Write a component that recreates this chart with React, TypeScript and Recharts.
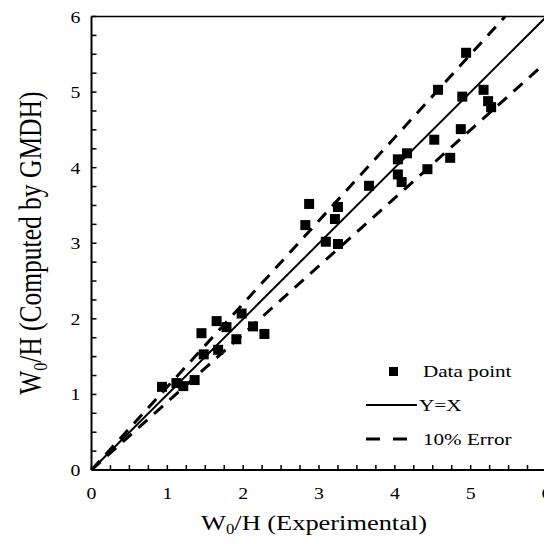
import React from 'react';
import { ScatterChart, Scatter, XAxis, YAxis, ReferenceLine, Label, Customized } from 'recharts';

// W0/H values
const experimental = [0.93, 1.12, 1.21, 1.36, 1.45, 1.48, 1.65, 1.67, 1.78, 1.91, 1.98, 2.13, 2.28, 2.82, 2.87, 3.09, 3.21, 3.25, 3.25, 3.66, 4.04, 4.04, 4.09, 4.16, 4.43, 4.52, 4.57, 4.73, 4.87, 4.89, 4.94, 5.17, 5.23, 5.27];
const computed = [1.10, 1.15, 1.11, 1.19, 1.81, 1.53, 1.97, 1.59, 1.89, 1.73, 2.07, 1.90, 1.80, 3.24, 3.52, 3.02, 3.32, 3.48, 2.99, 3.76, 4.11, 3.91, 3.81, 4.19, 3.98, 4.37, 5.03, 4.13, 4.51, 4.94, 5.52, 5.03, 4.88, 4.80];

const identityLine = [{ x: 0, y: 0 }, { x: 6, y: 6 }];
const upperErrorLine = [{ x: 0, y: 0 }, { x: 5.4545, y: 6 }];
const lowerErrorLine = [{ x: 0, y: 0 }, { x: 6, y: 5.4 }];

const axisTicks = [0, 0.25, 0.5, 0.75, 1, 1.25, 1.5, 1.75, 2, 2.25, 2.5, 2.75, 3, 3.25, 3.5, 3.75, 4, 4.25, 4.5, 4.75, 5, 5.25, 5.5, 5.75, 6];
const labelTicks = [0, 1, 2, 3, 4, 5, 6];

const legendLabels = ['Data point', 'Y=X', '10% Error'];

const points = experimental.map((x, i) => ({ x, y: computed[i] }));

const FONT = '"Liberation Serif", "Times New Roman", serif';
const SX = 1.2;

const XTick = (props: any) => {
  const { x, y, payload } = props;
  if (!labelTicks.includes(payload.value)) return <g />;
  return (
    <text transform={`translate(${x},${y + 12}) scale(${SX},1)`} textAnchor="middle" fontSize={16.5} fontFamily={FONT} fill="#000">
      {payload.value}
    </text>
  );
};

const YTick = (props: any) => {
  const { x, y, payload } = props;
  if (!labelTicks.includes(payload.value)) return <g />;
  return (
    <text transform={`translate(${x},${y + 6}) scale(${SX},1)`} textAnchor="end" fontSize={16.5} fontFamily={FONT} fill="#000">
      {payload.value}
    </text>
  );
};

const XTitle = (props: any) => {
  const vb = props.viewBox;
  const cx = vb.x + vb.width / 2 - 5;
  return (
    <text transform={`translate(${cx},${vb.y + 60}) scale(${SX},1)`} textAnchor="middle" fontSize={22} fontFamily={FONT} fill="#000">
      W<tspan fontSize={14} dy={4}>0</tspan><tspan dy={-4}>/H (Experimental)</tspan>
    </text>
  );
};

const YTitle = (props: any) => {
  const vb = props.viewBox;
  const cy = vb.y + vb.height / 2;
  return (
    <text transform={`translate(33,${cy}) scale(${SX},1) rotate(-90)`} textAnchor="middle" fontSize={25.5} fontFamily={FONT} fill="#000">
      W<tspan fontSize={16} dy={5}>0</tspan><tspan dy={-5}>/H (Computed by GMDH)</tspan>
    </text>
  );
};

const Square = (props: any) => {
  const { cx, cy } = props;
  return <rect x={cx - 5} y={cy - 5} width={10} height={10} fill="#000" />;
};

const LegendBox = () => (
  <g fontFamily={FONT} fontSize={17.6} fill="#000">
    <rect x={381} y={359} width={9} height={9} fill="#000" />
    <text transform={`translate(415,369) scale(${SX},1)`}>{legendLabels[0]}</text>
    <line x1={358} x2={409} y1={397} y2={397} stroke="#000" strokeWidth={2} />
    <text transform={`translate(411,403) scale(${SX},1)`}>{legendLabels[1]}</text>
    <line x1={358} x2={400} y1={431} y2={431} stroke="#000" strokeWidth={3} strokeDasharray="14 13" />
    <text transform={`translate(415,437) scale(${SX},1)`}>{legendLabels[2]}</text>
  </g>
);

export default function App() {
  return (
    <ScatterChart width={544} height={528} margin={{ top: 8.5, right: 5.5, left: 0, bottom: 0 }}>
      <XAxis
        type="number"
        dataKey="x"
        domain={[0, 6]}
        ticks={axisTicks}
        interval={0}
        tickLine={{ stroke: '#000', strokeWidth: 1.5 }}
        tickSize={-5}
        tickMargin={22}
        tick={<XTick />}
        axisLine={{ stroke: '#000', strokeWidth: 2 }}
        height={66}
      >
        <Label content={<XTitle />} />
      </XAxis>
      <YAxis
        type="number"
        dataKey="y"
        domain={[0, 6]}
        ticks={axisTicks}
        interval={0}
        tickLine={{ stroke: '#000', strokeWidth: 1.5 }}
        tickSize={-5}
        tickMargin={16}
        tick={<YTick />}
        axisLine={{ stroke: '#000', strokeWidth: 2 }}
        width={83.5}
      >
        <Label content={<YTitle />} />
      </YAxis>
      <ReferenceLine y={6} stroke="#000" strokeWidth={1.5} />
      <ReferenceLine x={6} stroke="#000" strokeWidth={1.5} />
      <ReferenceLine segment={identityLine} stroke="#000" strokeWidth={2} />
      <ReferenceLine segment={upperErrorLine} stroke="#000" strokeWidth={3} strokeDasharray="12 9" />
      <ReferenceLine segment={lowerErrorLine} stroke="#000" strokeWidth={3} strokeDasharray="12 9" />
      <Scatter data={points} shape={<Square />} isAnimationActive={false} />
      <Customized component={LegendBox} />
    </ScatterChart>
  );
}
